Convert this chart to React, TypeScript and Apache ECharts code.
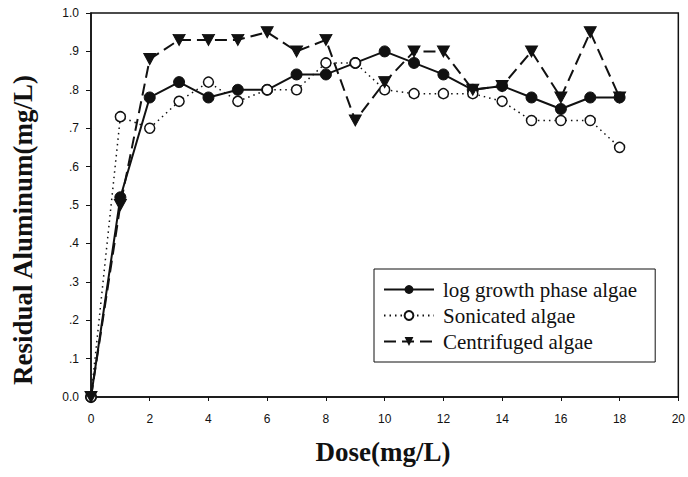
import React, { useEffect, useRef } from "react";
import * as echarts from "echarts";

const doses = [0, 1, 2, 3, 4, 5, 6, 7, 8, 9, 10, 11, 12, 13, 14, 15, 16, 17, 18];
const logGrowth = [0, 0.52, 0.78, 0.82, 0.78, 0.8, 0.8, 0.84, 0.84, 0.87, 0.9, 0.87, 0.84, 0.8, 0.81, 0.78, 0.75, 0.78, 0.78];
const sonicated = [0, 0.73, 0.7, 0.77, 0.82, 0.77, 0.8, 0.8, 0.87, 0.87, 0.8, 0.79, 0.79, 0.79, 0.77, 0.72, 0.72, 0.72, 0.65];
const centrifuged = [0, 0.5, 0.88, 0.93, 0.93, 0.93, 0.95, 0.9, 0.93, 0.72, 0.82, 0.9, 0.9, 0.8, 0.81, 0.9, 0.78, 0.95, 0.78];
const seriesNames = ["log growth phase algae", "Sonicated algae", "Centrifuged algae"];
const xTitle = "Dose(mg/L)";
const yTitle = "Residual Aluminum(mg/L)";

const pair = (ys: number[]) => doses.map((d, i) => [d, ys[i]]);
const triDown = "path://M0,0 L10,0 L5,9 Z";
const SERIF = "'Liberation Serif', 'Times New Roman', serif";
const SANS = "'Liberation Sans', Arial, sans-serif";

export default function App() {
  const ref = useRef<HTMLDivElement>(null);
  useEffect(() => {
    if (!ref.current) return;
    const chart = echarts.init(ref.current, null, { renderer: "svg" });
    const titleStyle = { fontFamily: SERIF, fontWeight: "bold", fontSize: 27, fill: "#111" };
    chart.setOption({
      animation: false,
      backgroundColor: "#fff",
      grid: { left: 91, right: 8, top: 13, bottom: 80, show: true, borderColor: "#111", borderWidth: 1.5, backgroundColor: "transparent" },
      xAxis: {
        type: "value",
        min: 0,
        max: 20,
        interval: 2,
        axisLine: { show: true, lineStyle: { color: "#111", width: 1.5 } },
        axisTick: { show: true, inside: false, length: 4, lineStyle: { color: "#111" } },
        axisLabel: { fontFamily: SANS, fontSize: 12, color: "#111", margin: 16 },
        splitLine: { show: false },
      },
      yAxis: {
        type: "value",
        min: 0,
        max: 1,
        interval: 0.1,
        axisLine: { show: true, lineStyle: { color: "#111", width: 1.5 } },
        axisTick: { show: true, inside: false, length: 5, lineStyle: { color: "#111" } },
        axisLabel: {
          fontFamily: SANS,
          fontSize: 12,
          color: "#111",
          margin: 12,
          formatter: (v: number) => {
            const r = Math.round(v * 10);
            if (r === 0) return "0.0";
            if (r === 10) return "1.0";
            return "." + r;
          },
        },
        splitLine: { show: false },
      },
      graphic: [
        {
          type: "text",
          x: 383,
          y: 452,
          style: { text: xTitle, align: "center", verticalAlign: "middle", ...titleStyle },
        },
        {
          type: "text",
          x: 23,
          y: 230,
          rotation: Math.PI / 2,
          style: { text: yTitle, align: "center", verticalAlign: "middle", ...titleStyle },
        },
      ],
      legend: {
        orient: "vertical",
        left: 374,
        top: 269,
        padding: [10, 18, 10, 9],
        itemGap: 5,
        itemWidth: 50,
        itemHeight: 11,
        borderColor: "#111",
        borderWidth: 1,
        backgroundColor: "#fff",
        textStyle: { fontFamily: SERIF, fontSize: 21, color: "#111", padding: [0, 0, 0, 4] },
        data: seriesNames,
      },
      series: [
        {
          name: seriesNames[0],
          type: "line",
          data: pair(logGrowth),
          symbol: "circle",
          symbolSize: 11,
          itemStyle: { color: "#111", borderColor: "#111" },
          lineStyle: { color: "#111", width: 2, type: "solid" },
          z: 2,
        },
        {
          name: seriesNames[1],
          type: "line",
          data: pair(sonicated),
          symbol: "circle",
          symbolSize: 10,
          itemStyle: { color: "#fff", borderColor: "#111", borderWidth: 1.5 },
          lineStyle: { color: "#111", width: 1.5, type: [1.5, 4] },
          z: 3,
        },
        {
          name: seriesNames[2],
          type: "line",
          data: pair(centrifuged),
          symbol: triDown,
          symbolSize: [12, 11],
          itemStyle: { color: "#111", borderColor: "#111" },
          lineStyle: { color: "#111", width: 2, type: [12, 6] },
          z: 4,
        },
      ],
    });
    return () => chart.dispose();
  }, []);
  return <div ref={ref} style={{ position: "fixed", left: 0, top: 0, width: 688, height: 477 }} />;
}
